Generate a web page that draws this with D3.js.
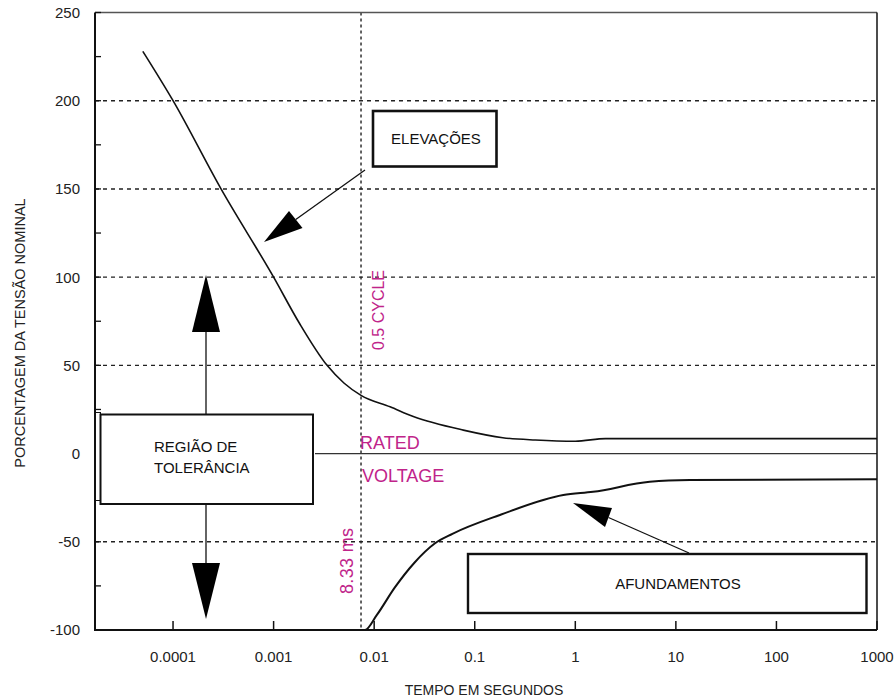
<!DOCTYPE html>
<html>
<head>
<meta charset="utf-8">
<script src="https://cdn.jsdelivr.net/npm/d3@7"></script>
<style>
  body { margin: 0; background: #fff; }
  svg { display: block; font-family: "Liberation Sans", Arial, sans-serif; }
</style>
</head>
<body>
<script>
// tick values / labels
const xTicks = [1e-4, 1e-3, 1e-2, 0.1, 1, 10, 100, 1000];
const xTickLabels = ["0.0001", "0.001", "0.01", "0.1", "1", "10", "100", "1000"];
const yTicks = [-100, -75, -50, -25, 0, 25, 50, 75, 100, 125, 150, 175, 200, 225, 250];
const yLabelTicks = [-100, -50, 0, 50, 100, 150, 200, 250];
const gridValues = [200, 150, 100, 50, -50];

// upper curve (elevações): time in s, % of nominal
const upperTime = [0.00005, 0.0001, 0.0003, 0.001, 0.0018, 0.0034, 0.005, 0.0074, 0.0144, 0.0245, 0.077, 0.19, 0.4, 1, 2, 1000];
const upperPct = [228, 200, 150, 100, 74, 50, 40, 33, 26.5, 21, 13.3, 9, 7.7, 7, 8.5, 8.5];

// lower curve (afundamentos)
const lowerTime = [1.675e-5, 0.0081, 0.0106, 0.016, 0.025, 0.04, 0.06, 0.178, 0.76, 1.5, 5.5, 13.8, 1000];
const lowerPct = [-100, -100, -91.6, -76, -62, -51, -45.5, -34.8, -23.5, -21.7, -16, -15, -14.5];

const halfCycle = 0.0074; // 8.33 ms marker

const width = 894, height = 699;
const mLeft = 95, mRight = 877, mTop = 12.5, mBottom = 630;
const magenta = "#c0248a";

const x = d3.scaleLog().domain([1.675e-5, 1000]).range([mLeft, mRight]);
const y = d3.scaleLinear().domain([-100, 250]).range([mBottom, mTop]);

const svg = d3.select("body").append("svg")
  .attr("width", width)
  .attr("height", height);

// dashed grid
svg.append("g")
  .selectAll("line")
  .data(gridValues)
  .join("line")
  .attr("x1", mLeft).attr("x2", mRight)
  .attr("y1", d => y(d)).attr("y2", d => y(d))
  .attr("stroke", "#222")
  .attr("stroke-width", 1.4)
  .attr("stroke-dasharray", "4,4");

// 0.5 cycle vertical line
svg.append("line")
  .attr("x1", x(halfCycle)).attr("x2", x(halfCycle))
  .attr("y1", mTop).attr("y2", mBottom)
  .attr("stroke", "#222")
  .attr("stroke-width", 1.4)
  .attr("stroke-dasharray", "3,3");

// rated voltage line
svg.append("line")
  .attr("x1", 315).attr("x2", mRight)
  .attr("y1", y(0)).attr("y2", y(0))
  .attr("stroke", "#333")
  .attr("stroke-width", 1.3);

// frame
svg.append("line").attr("x1", mLeft).attr("x2", mRight).attr("y1", mTop).attr("y2", mTop)
  .attr("stroke", "#555").attr("stroke-width", 1.5);
svg.append("line").attr("x1", mRight).attr("x2", mRight).attr("y1", mTop).attr("y2", mBottom)
  .attr("stroke", "#111").attr("stroke-width", 1.5);
svg.append("line").attr("x1", mLeft).attr("x2", mLeft).attr("y1", mTop).attr("y2", mBottom + 1)
  .attr("stroke", "#111").attr("stroke-width", 2);
svg.append("line").attr("x1", mLeft).attr("x2", mRight).attr("y1", mBottom).attr("y2", mBottom)
  .attr("stroke", "#111").attr("stroke-width", 2);

// ticks
svg.append("g")
  .selectAll("line")
  .data(xTicks)
  .join("line")
  .attr("x1", d => x(d)).attr("x2", d => x(d))
  .attr("y1", mBottom).attr("y2", mBottom - 9)
  .attr("stroke", "#111").attr("stroke-width", 1.5);

svg.append("g")
  .selectAll("line")
  .data(yTicks)
  .join("line")
  .attr("x1", mLeft).attr("x2", mLeft + 6)
  .attr("y1", d => y(d)).attr("y2", d => y(d))
  .attr("stroke", "#111").attr("stroke-width", 1.3);

// tick labels
svg.append("g")
  .selectAll("text")
  .data(xTicks)
  .join("text")
  .attr("x", d => x(d))
  .attr("y", 662)
  .attr("text-anchor", "middle")
  .attr("font-size", 15)
  .attr("fill", "#222")
  .text((d, i) => xTickLabels[i]);

svg.append("g")
  .selectAll("text")
  .data(yLabelTicks)
  .join("text")
  .attr("x", 80)
  .attr("y", d => y(d))
  .attr("dy", "0.36em")
  .attr("text-anchor", "end")
  .attr("font-size", 15)
  .attr("fill", "#222")
  .text(d => d);

// axis titles
svg.append("text")
  .attr("x", 484).attr("y", 695)
  .attr("text-anchor", "middle")
  .attr("font-size", 14)
  .attr("fill", "#222")
  .text("TEMPO EM SEGUNDOS");

svg.append("text")
  .attr("transform", "translate(25,333) rotate(-90)")
  .attr("text-anchor", "middle")
  .attr("font-size", 14.5)
  .attr("fill", "#222")
  .text("PORCENTAGEM DA TENSÃO NOMINAL");

// curves
const line = d3.line()
  .x(d => x(d[0]))
  .y(d => y(d[1]))
  .curve(d3.curveMonotoneX);

svg.append("path")
  .datum(d3.zip(upperTime, upperPct))
  .attr("d", line)
  .attr("fill", "none")
  .attr("stroke", "#111")
  .attr("stroke-width", 1.6);

svg.append("path")
  .datum(d3.zip(lowerTime, lowerPct))
  .attr("d", line)
  .attr("fill", "none")
  .attr("stroke", "#111")
  .attr("stroke-width", 2);

// magenta labels
svg.append("text")
  .attr("transform", "translate(384,350) rotate(-90)")
  .attr("font-size", 16)
  .attr("fill", magenta)
  .text("0.5 CYCLE");

svg.append("text")
  .attr("transform", "translate(353,594) rotate(-90)")
  .attr("font-size", 18)
  .attr("textLength", 66)
  .attr("fill", magenta)
  .text("8.33 ms");

svg.append("text")
  .attr("x", 360).attr("y", 449)
  .attr("font-size", 18)
  .attr("fill", magenta)
  .text("RATED");

svg.append("text")
  .attr("x", 362).attr("y", 482)
  .attr("font-size", 18)
  .attr("fill", magenta)
  .text("VOLTAGE");

// annotation helpers
function arrow(x1, y1, tip, b1, b2) {
  svg.append("line")
    .attr("x1", x1).attr("y1", y1)
    .attr("x2", (b1[0] + b2[0]) / 2).attr("y2", (b1[1] + b2[1]) / 2)
    .attr("stroke", "#111").attr("stroke-width", 1.3);
  svg.append("path")
    .attr("d", `M${tip}L${b1}L${b2}Z`)
    .attr("fill", "#000");
}

function box(x0, y0, x1, y1, sw) {
  svg.append("rect")
    .attr("x", x0).attr("y", y0)
    .attr("width", x1 - x0).attr("height", y1 - y0)
    .attr("fill", "#fff")
    .attr("stroke", "#111")
    .attr("stroke-width", sw);
}

// ELEVAÇÕES
arrow(365, 170, [264, 242], [289, 211], [302.5, 228]);
box(373, 111, 496.5, 166.5, 2.6);
svg.append("text")
  .attr("x", 436).attr("y", 144)
  .attr("text-anchor", "middle")
  .attr("font-size", 15)
  .attr("fill", "#111")
  .text("ELEVAÇÕES");

// região de tolerância
arrow(206, 414, [206, 275], [192, 332], [220, 332]);
arrow(206, 504, [206, 619], [192, 563], [220, 563]);
svg.append("rect")
  .attr("x", 95.5).attr("y", 412.5)
  .attr("width", 5).attr("height", 88)
  .attr("fill", "#fff")
  .attr("stroke", "#111")
  .attr("stroke-width", 1);
box(100.5, 414.5, 313, 504, 2);
svg.append("text")
  .attr("x", 154).attr("y", 452)
  .attr("font-size", 15)
  .attr("fill", "#111")
  .text("REGIÃO DE");
svg.append("text")
  .attr("x", 154).attr("y", 473)
  .attr("font-size", 15)
  .attr("fill", "#111")
  .text("TOLERÂNCIA");

// AFUNDAMENTOS
arrow(689, 553, [573, 503], [612, 508], [605, 527]);
box(468, 554, 866.5, 613, 2.4);
svg.append("text")
  .attr("x", 678).attr("y", 589)
  .attr("text-anchor", "middle")
  .attr("font-size", 15)
  .attr("fill", "#111")
  .text("AFUNDAMENTOS");
</script>
</body>
</html>
